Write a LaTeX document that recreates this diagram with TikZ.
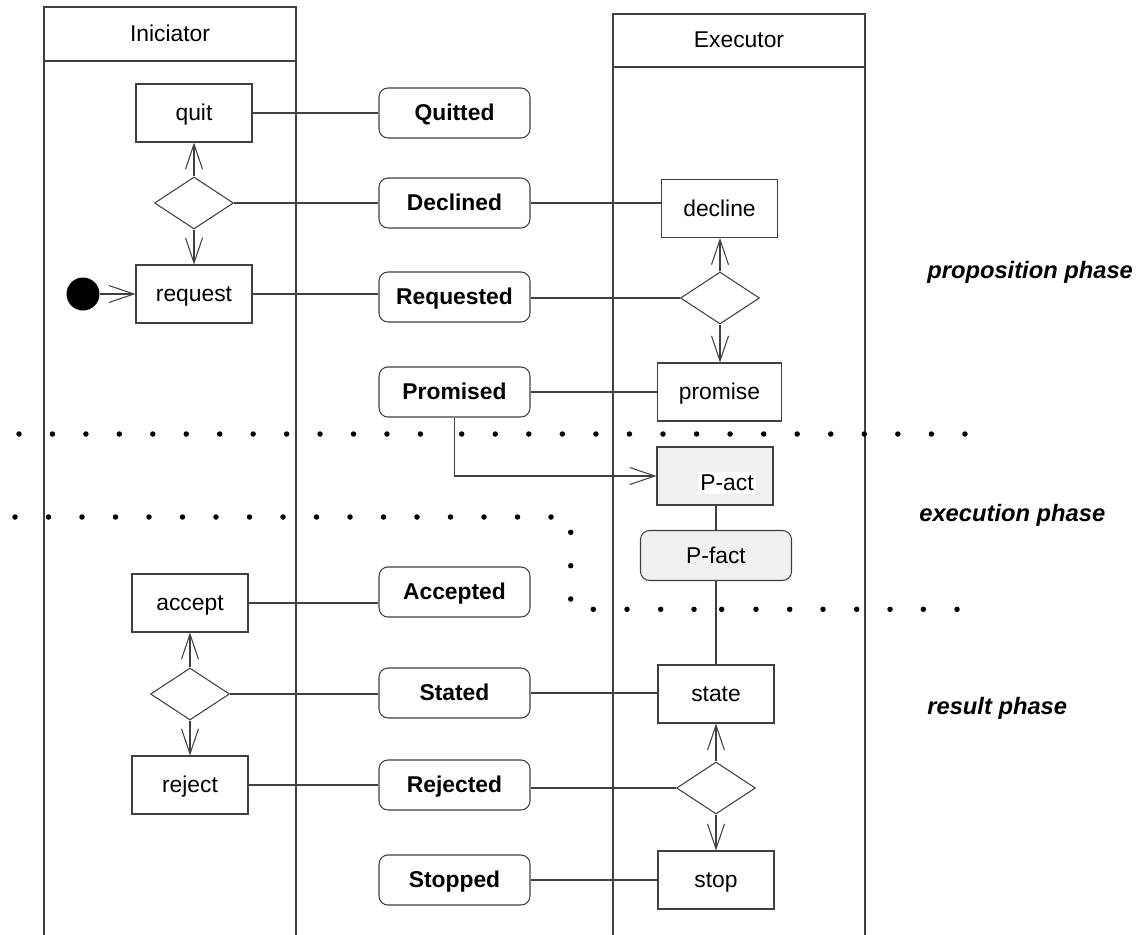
\documentclass[tikz,border=0pt]{standalone}
\usepackage{fontspec}
\setmainfont{Liberation Sans}
\usetikzlibrary{shapes.geometric,arrows.meta}
\definecolor{lncol}{HTML}{404040}
\definecolor{pgcol}{HTML}{F0F0F0}
\begin{document}
\begin{tikzpicture}[x=0.02cm,y=-0.02cm,
  every node/.style={font=\fontsize{13}{15}\selectfont},
  txt/.style={text height=0.9em,text depth=0.04em},
  ln/.style={draw=lncol,line width=0.6pt},
  actbox/.style={ln,txt,rectangle,minimum width=2.32cm,minimum height=1.16cm,inner sep=0pt},
  factbox/.style={ln,txt,rectangle,rounded corners=0.18cm,minimum width=3.02cm,minimum height=1.0cm,inner sep=0pt,font=\fontsize{13}{15}\selectfont\bfseries},
  decbox/.style={ln,diamond,minimum width=1.58cm,minimum height=1.04cm,inner sep=0pt},
  arr/.style={ln,-{Straight Barb[length=0.5cm,width=0.34cm]}},
  phaselbl/.style={anchor=base west,inner sep=0pt,font=\fontsize{13.5}{15}\selectfont\bfseries\itshape}
]
\useasboundingbox (0,0) rectangle (1139,934);

% swimlanes
\draw[ln] (44,940) -- (44,7) -- (296,7) -- (296,940);
\draw[ln] (44,61) -- (296,61);
\node[txt] (ini) at (170,34) {Iniciator};
\draw[ln] (613,940) -- (613,14) -- (865,14) -- (865,940);
\draw[ln] (613,67) -- (865,67);
\node[txt] (exe) at (739,40) {Executor};

% initiator side
\node[actbox] (quit) at (194,113) {quit};
\node[decbox] (d1) at (194,203) {};
\node[actbox] (request) at (194,294) {request};
\node[circle,fill=black,minimum size=0.66cm,inner sep=0pt] (init) at (83,294) {};
\node[actbox] (accept) at (190,603) {accept};
\node[decbox] (d4) at (190,694) {};
\node[actbox] (reject) at (190,785) {reject};

% facts
\node[factbox] (Quitted) at (454.5,113) {Quitted};
\node[factbox] (Declined) at (454.5,203) {Declined};
\node[factbox] (Requested) at (454.5,297) {Requested};
\node[factbox] (Promised) at (454.5,392) {Promised};
\node[factbox] (Accepted) at (454.5,592) {Accepted};
\node[factbox] (Stated) at (454.5,693) {Stated};
\node[factbox] (Rejected) at (454.5,785) {Rejected};
\node[factbox] (Stopped) at (454.5,880) {Stopped};

% executor side
\node[actbox] (decline) at (719.5,208.5) {decline};
\node[decbox] (d2) at (720,298) {};
\node[actbox,minimum width=2.48cm] (promise) at (719.5,392) {promise};
\node[actbox,fill=pgcol] (pact) at (715,476) {};
\node[txt,fill=white,inner sep=1.5pt] (pacttxt) at (727,483) {P-act};
\node[factbox,fill=pgcol,font=\fontsize{13}{15}\selectfont] (pfact) at (716,555.5) {P-fact};
\node[actbox] (state) at (716,694) {state};
\node[decbox] (d3) at (716,788) {};
\node[actbox] (stop) at (716,880) {stop};

% connectors
\draw[ln] (quit.east) -- (Quitted.west);
\draw[ln] (d1.east) -- (Declined.west);
\draw[ln] (Declined.east) -- (Declined.east -| decline.west);
\draw[ln] (request.east) -- (request.east -| Requested.west);
\draw[ln] (Requested.east |- d2.west) -- (d2.west);
\draw[ln] (Promised.east) -- (promise.west);
\draw[arr] (Promised.south) |- (pact.west);
\draw[ln] (pact.south -| pfact.north) -- (pfact.north);
\draw[ln] (pfact.south) -- (state.north);
\draw[ln] (accept.east) -- (accept.east -| Accepted.west);
\draw[ln] (d4.east) -- (d4.east -| Stated.west);
\draw[ln] (Stated.east) -- (Stated.east -| state.west);
\draw[ln] (reject.east) -- (Rejected.west);
\draw[ln] (Rejected.east |- d3.west) -- (d3.west);
\draw[ln] (Stopped.east) -- (stop.west);

% arrows
\draw[arr] (d1.north) -- (quit.south);
\draw[arr] (d1.south) -- (request.north);
\draw[arr] (init.east) -- (request.west);
\draw[arr] (d2.north) -- (d2.north |- decline.south);
\draw[arr] (d2.south) -- (d2.south |- promise.north);
\draw[arr] (d4.north) -- (accept.south);
\draw[arr] (d4.south) -- (reject.north);
\draw[arr] (d3.north) -- (state.south);
\draw[arr] (d3.south) -- (stop.north);

% dotted phase borders
\foreach \i in {0,...,12} \fill ({19+33.45*\i},434) circle (0.055cm);
\foreach \i in {0,...,15} \fill ({461.7+33.55*\i},434) circle (0.055cm);
\foreach \i in {0,...,16} \fill ({15+33.5*\i},517) circle (0.055cm);
\foreach \yy in {532.3,565.7,599} \fill (570.7,\yy) circle (0.055cm);
\foreach \xx in {593.3,627,660.7,694,721.7,756,789.7,823,856.7,890,923.3,957} \fill (\xx,609.3) circle (0.055cm);

% phase labels
\node[phaselbl] (ph1) at (927,278) {proposition phase};
\node[phaselbl] (ph2) at (919,521.5) {execution phase};
\node[phaselbl] (ph3) at (927,714) {result phase};
\end{tikzpicture}
\end{document}
